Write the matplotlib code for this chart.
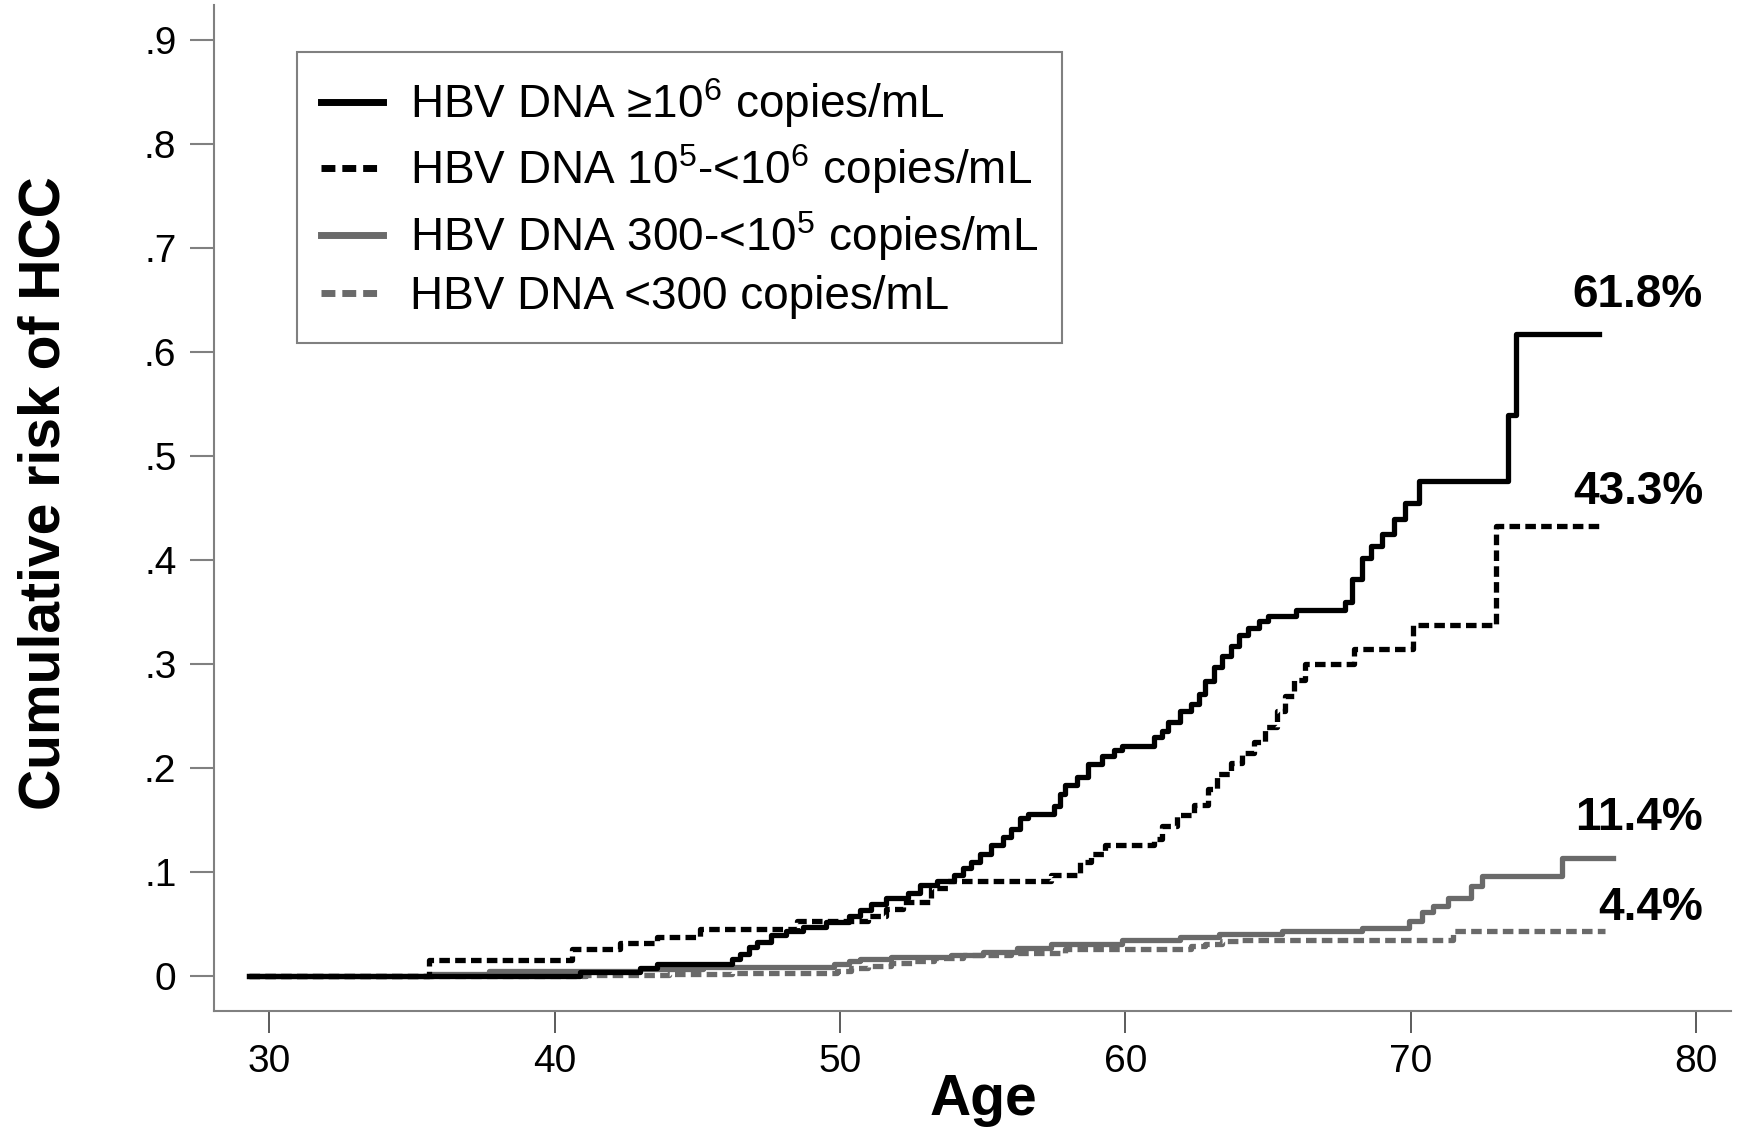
import matplotlib
matplotlib.use("Agg")
import matplotlib.pyplot as plt

plt.rcParams['font.family'] = ['Liberation Sans', 'DejaVu Sans']
plt.rcParams['mathtext.fontset'] = 'custom'
plt.rcParams['mathtext.rm'] = 'Liberation Sans'

# cumulative risk of HCC by age
age_hi = [29.3, 40.9, 43.0, 43.6, 46.2, 46.5, 46.8, 47.1, 47.6, 48.1, 48.7, 49.5, 50.3,
          50.7, 51.1, 51.6, 52.4, 52.8, 53.4, 54.0, 54.3, 54.6, 54.9, 55.3, 55.7, 56.0,
          56.3, 56.6, 57.5, 57.7, 57.9, 58.3, 58.7, 59.2, 59.6, 59.9, 61.0, 61.3, 61.5,
          61.9, 62.3, 62.6, 62.8, 63.1, 63.4, 63.7, 64.0, 64.3, 64.7, 65.0, 66.0, 67.7,
          67.95, 68.3, 68.6, 69.0, 69.4, 69.8, 70.3, 73.4, 73.7, 76.6]
risk_hi = [0.0, 0.004, 0.008, 0.012, 0.017, 0.022, 0.028, 0.033, 0.040, 0.044, 0.048, 0.052,
           0.058, 0.064, 0.070, 0.075, 0.080, 0.088, 0.092, 0.098, 0.104, 0.110, 0.118,
           0.126, 0.134, 0.142, 0.152, 0.156, 0.164, 0.175, 0.184, 0.192, 0.204, 0.212,
           0.218, 0.222, 0.230, 0.236, 0.245, 0.255, 0.262, 0.272, 0.284, 0.298, 0.308,
           0.318, 0.328, 0.335, 0.342, 0.347, 0.352, 0.360, 0.382, 0.402, 0.414, 0.425,
           0.440, 0.455, 0.476, 0.540, 0.618, 0.618]

age_mid = [29.3, 35.6, 40.6, 42.3, 43.6, 45.1, 48.5, 51.0, 51.6, 52.2, 53.2, 53.8, 57.4,
           58.4, 58.8, 59.3, 61.0, 61.3, 61.8, 62.4, 62.9, 63.2, 63.7, 64.1, 64.5, 64.9,
           65.3, 65.6, 65.9, 66.3, 68.0, 70.1, 73.0, 76.7]
risk_mid = [0.0, 0.016, 0.026, 0.032, 0.038, 0.046, 0.053, 0.058, 0.065, 0.072, 0.085,
            0.092, 0.098, 0.110, 0.118, 0.126, 0.132, 0.145, 0.155, 0.165, 0.180, 0.195,
            0.205, 0.215, 0.225, 0.240, 0.255, 0.270, 0.285, 0.300, 0.315, 0.338, 0.433,
            0.433]

age_low = [29.3, 35.7, 37.7, 43.0, 45.2, 49.8, 50.3, 50.7, 51.8, 53.9, 55.0, 56.2, 57.4,
           59.9, 61.9, 63.3, 65.5, 68.3, 69.95, 70.4, 70.8, 71.3, 72.1, 72.5, 75.3, 77.1]
risk_low = [0.0, 0.002, 0.005, 0.007, 0.009, 0.012, 0.015, 0.017, 0.019, 0.021, 0.024,
            0.027, 0.031, 0.035, 0.038, 0.041, 0.044, 0.047, 0.053, 0.062, 0.068, 0.075,
            0.087, 0.097, 0.114, 0.114]

age_und = [29.3, 41.1, 44.0, 46.2, 49.9, 50.4, 51.0, 51.8, 52.6, 53.3, 54.3, 56.0, 57.9,
           62.3, 62.8, 63.4, 64.0, 71.5, 76.8]
risk_und = [0.0, 0.001, 0.002, 0.003, 0.005, 0.008, 0.010, 0.013, 0.015, 0.018, 0.021,
            0.023, 0.026, 0.029, 0.031, 0.034, 0.035, 0.044, 0.044]

labels = ['HBV DNA \u226510$^{\\mathregular{6}}$ copies/mL',
          'HBV DNA 10$^{\\mathregular{5}}$-<10$^{\\mathregular{6}}$ copies/mL',
          'HBV DNA 300-<10$^{\\mathregular{5}}$ copies/mL',
          'HBV DNA <300 copies/mL']
end_labels = ['61.8%', '43.3%', '11.4%', '4.4%']
end_label_y = [0.655, 0.466, 0.152, 0.066]

fig = plt.figure(figsize=(17.38, 11.31), dpi=100)
ax = fig.add_axes([0.1231, 0.1061, 0.996 - 0.1231, 0.9956 - 0.1061])

grey = '#6a6a6a'
lw = 3.8
l4, = ax.plot(age_und, risk_und, drawstyle='steps-post', color=grey, lw=lw, dashes=(2, 1))
l3, = ax.plot(age_low, risk_low, drawstyle='steps-post', color=grey, lw=lw)
l2, = ax.plot(age_mid, risk_mid, drawstyle='steps-post', color='black', lw=lw, dashes=(2, 1))
l1, = ax.plot(age_hi, risk_hi, drawstyle='steps-post', color='black', lw=lw)

for txt, yy in zip(end_labels, end_label_y):
    ax.text(80.25, yy, txt, ha='right', va='center', fontsize=33, fontweight='bold')

ax.set_xlim(28.06, 81.23)
ax.set_ylim(-0.0332, 0.934)
ax.set_xticks([30, 40, 50, 60, 70, 80])
ax.set_yticks([0, .1, .2, .3, .4, .5, .6, .7, .8, .9])
ax.set_yticklabels(['0', '.1', '.2', '.3', '.4', '.5', '.6', '.7', '.8', '.9'])
ax.tick_params(axis='y', length=17, width=1.5, color='#808080', labelsize=28, pad=10)
ax.tick_params(axis='x', length=16, width=1.2, color='#404040', labelsize=28, pad=8)

for s in ['top', 'right']:
    ax.spines[s].set_visible(False)
for s in ['left', 'bottom']:
    ax.spines[s].set_color('#808080')
    ax.spines[s].set_linewidth(1.5)

ax.set_xlabel('Age', fontsize=41, fontweight='bold')
ax.xaxis.set_label_coords(0.507, -0.062)
ax.set_ylabel('Cumulative risk of HCC', fontsize=41, fontweight='bold')
ax.yaxis.set_label_coords(-0.094, 0.515)

leg = ax.legend([l1, l2, l3, l4], labels, loc='upper left', bbox_to_anchor=(0.0547, 0.953),
                borderaxespad=0, fontsize=33, frameon=True, fancybox=False,
                handlelength=1.35, handletextpad=0.6, labelspacing=0.27, borderpad=0.52)
leg.get_frame().set_edgecolor('#606060')
leg.get_frame().set_linewidth(1.5)
for h in leg.get_lines():
    h.set_linewidth(5)

fig.savefig('out.png', dpi=100)
